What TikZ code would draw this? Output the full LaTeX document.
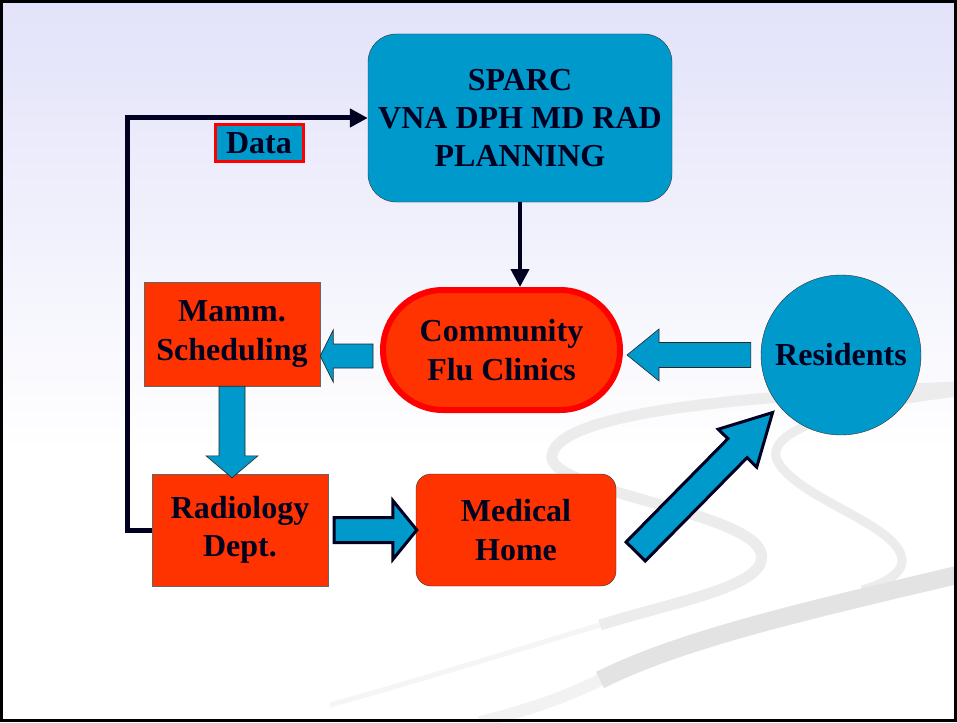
\documentclass[tikz,border=0pt]{standalone}
\usepackage{fontspec}
\setmainfont{Liberation Serif}
\usetikzlibrary{calc,arrows.meta}

\definecolor{sparcblue}{RGB}{0,153,204}
\definecolor{clinicred}{RGB}{255,51,0}
\definecolor{inkblue}{RGB}{0,0,32}
\definecolor{lavender}{RGB}{226,226,250}
\definecolor{swirlgray}{RGB}{236,236,236}

% block arrow: [style]{tail}{tip}{half shaft}{half head}{head length}
\newcommand{\blockarrow}[6][]{%
	\coordinate (ba) at ($(#3)!#6!(#2)$);
	\draw[bigarrow,#1] ($(#2)!#4!90:(#3)$) -- ($(ba)!#4!90:(#3)$) -- ($(ba)!#5!90:(#3)$) -- (#3)
		-- ($(ba)!#5!-90:(#3)$) -- ($(ba)!#4!-90:(#3)$) -- ($(#2)!#4!-90:(#3)$) -- cycle;
}

\begin{document}
\begin{tikzpicture}[x=1pt, y=-1pt,
		bigarrow/.style={fill=sparcblue, draw=black!85, line width=0.6pt},
		thickarrow/.style={draw=inkblue, line width=3pt},
		flowline/.style={draw=inkblue, line width=5pt, -{Triangle[length=18pt,width=18pt]}},
		swirl/.style={draw=swirlgray, line cap=butt}]
		\useasboundingbox (0,0) rectangle (957,722);
		\fill[white] (0,0) rectangle (957,722);
		\shade[top color=lavender, bottom color=white] (0,0) rectangle (957,450);
		\draw[swirl, draw=black!4, line width=5pt] (600,625) .. controls (500,655) and (420,680) .. (330,705);
		\draw[swirl, line width=11pt] (957,387) .. controls (760,395) and (560,410) .. (552,455) .. controls (545,490) and (740,510) .. (760,550) .. controls (775,585) and (680,600) .. (600,625);
		\draw[swirl, line width=9pt] (957,392) .. controls (850,405) and (760,430) .. (778,462) .. controls (800,500) and (900,525) .. (902,560) .. controls (903,575) and (880,585) .. (862,590);
		\draw[swirl, draw=black!5, line width=12pt] (600,680) .. controls (560,700) and (520,712) .. (480,722);
		\draw[swirl, draw=black!11, line width=18pt] (957,575) .. controls (800,612) and (680,640) .. (600,680);
		\draw[line width=3pt] (1.5,1.5) rectangle (955.5,720.5);

		\begin{scope}[every node/.style={text=inkblue, align=center, inner sep=0pt, font=\fontsize{32}{38.4}\selectfont\bfseries}]
			\node[fill=sparcblue, draw=black!80, rounded corners=28pt, minimum width=304pt, minimum height=168pt] (sparc) at (520,118) {SPARC\\VNA DPH MD RAD\\PLANNING};
			\node[fill=sparcblue, draw=red, line width=3pt, minimum width=88pt, minimum height=37pt] (data) at (259,143) {Data};
			\node[fill=clinicred, draw=red, line width=6pt, rounded corners=60pt, minimum width=237pt, minimum height=120pt] (cfc) at (501.5,350) {Community\\Flu Clinics};
			\node[circle, fill=sparcblue, draw=black!80, minimum size=160pt] (res) at (841,355) {Residents};
			\node[fill=clinicred, draw=black!60, minimum width=176pt, minimum height=104pt] (mamm) at (232,334) {Mamm.\\Scheduling};
			\node[fill=clinicred, draw=black!60, minimum width=176pt, minimum height=112pt] (radio) at (240,530) {Radiology\\Dept.};
			\node[fill=clinicred, draw=black!80, rounded corners=15pt, minimum width=200pt, minimum height=112pt] (medhome) at (516,530) {Medical\\Home};
		\end{scope}

		\begin{scope}
			\draw[flowline] (radio.west) -- ++(-24,0) |- (sparc.west);
			\draw[flowline, line width=4pt] (sparc.south) -- (sparc.south |- cfc.north);

			\path (res.west) ++(-10,0) coordinate (resW)
				(resW -| cfc.east) ++(4,0) coordinate (cfcE)
				(cfc.west) ++(-7,6) coordinate (cfcW)
				(cfcW -| mamm.east) coordinate (mammE)
				(mamm.south) coordinate (mammS)
				(mammS |- radio.north) ++(0,4) coordinate (radioN)
				(radio.east) ++(6,0) coordinate (radioE)
				(medhome.west) ++(1,0) coordinate (medW)
				(medhome.east) ++(19.5,21.5) coordinate (medE)
				(res.220) ++(-7,6) coordinate (resSW);

			\blockarrow{resW}{cfcE}{12.5pt}{26pt}{32pt}
			\blockarrow{cfcW}{mammE}{12pt}{26pt}{13pt}
			\blockarrow{mammS}{radioN}{13pt}{26pt}{22pt}
			\blockarrow[thickarrow]{radioE}{medW}{12.5pt}{29.5pt}{24pt}
			\blockarrow[thickarrow]{medE}{resSW}{13.5pt}{27pt}{50pt}
		\end{scope}
\end{tikzpicture}
\end{document}
